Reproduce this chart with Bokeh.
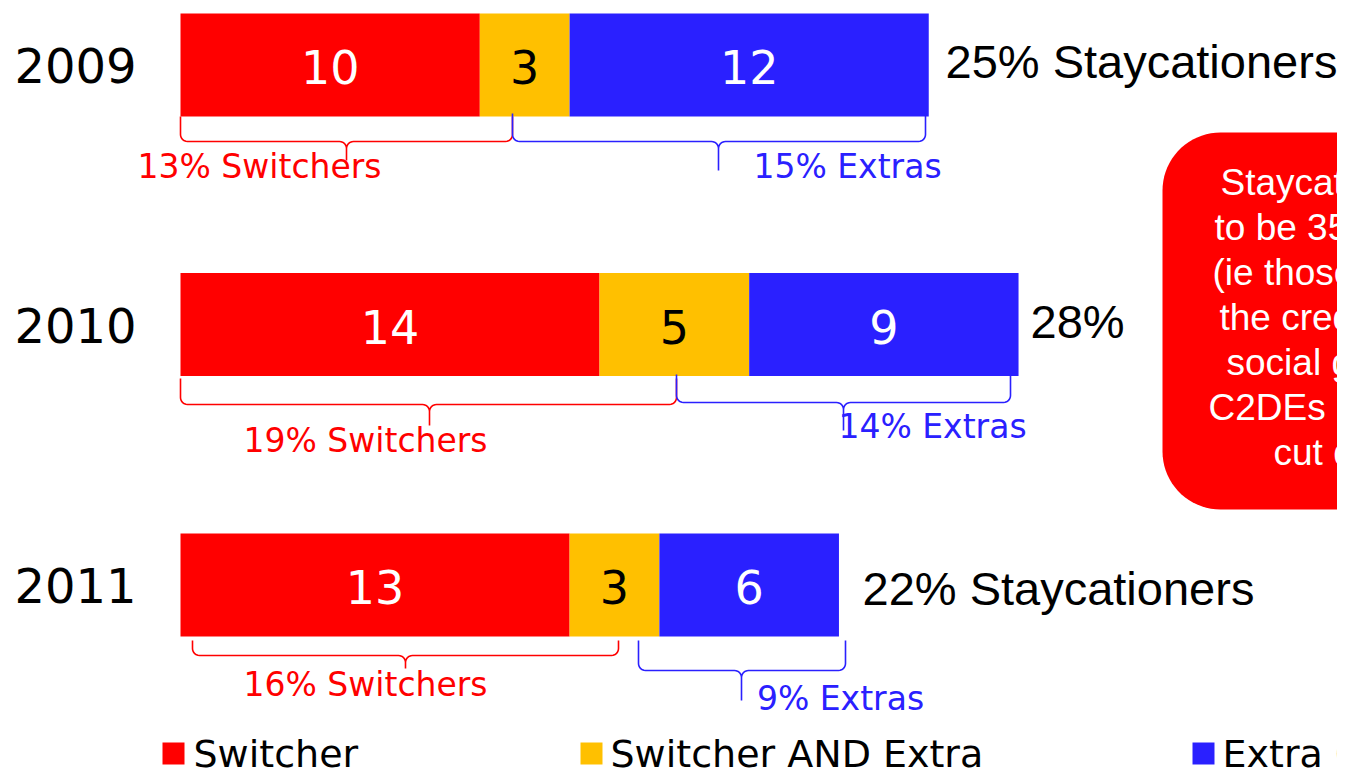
import numpy as np
from bokeh.plotting import figure
from bokeh.models import Range1d, ColumnDataSource
from bokeh.core.properties import value
from bokeh.embed import file_html
from bokeh.resources import INLINE

# ---------------- data ----------------
years = ["2009", "2010", "2011"]
switcher = [10, 14, 13]
switcher_and_extra = [3, 5, 3]
extra_only = [12, 9, 6]
total_labels = ["25% Staycationers", "28%", "22% Staycationers"]
switchers_pct = ["13% Switchers", "19% Switchers", "16% Switchers"]
extras_pct = ["15% Extras", "14% Extras", "9% Extras"]
legend_labels = ["Switcher", "Switcher AND Extra", "Extra Only"]
box_lines = ["Staycationers forecast", "to be 35% in 2012", "(ie those hardest hit by",
             "the credit crunch, esp.", "social grades", "C2DEs most likely to", "cut down)"]

# ---------------- layout / style ----------------
RED, YEL, BLU = "#FF0000", "#FFC000", "#2A20FF"
W, H = 1337, 771
X0, PXU = 180.0, 29.93          # screen px of value 0, px per unit
def px(x):                      # screen px -> data units
    return (x - X0) / PXU

def base(y, fs):                # visual baseline -> bokeh text y
    return y - 0.4 * fs

bar_y = [64.5, 324.0, 584.5]
bar_h = 103
year_base = [84, 344, 604]
val_base = [85, 345, 605]
total_x = [945, 1030, 862]
total_base = [80, 340, 607]
sw_lab = [(259, 179), (365, 453), (365, 697)]
ex_lab = [(847, 179), (932, 439), (840, 711)]
braces_red = [(180, 512, 346, 116, 141, 160), (180, 676, 429, 378, 404, 425), (192, 618, 405, 640, 655, 668)]
braces_blu = [(512, 925, 718, 113, 141, 170), (676, 1010, 843, 374, 402, 430), (638, 845, 741, 640, 670, 700)]

p = figure(width=W, height=H, output_backend="svg", toolbar_location=None,
           x_range=Range1d(px(0), px(W)), y_range=Range1d(H, 0),
           min_border=0, outline_line_color=None, background_fill_color="white")
p.axis.visible = False
p.grid.visible = False

# ---------------- bars ----------------
sw = np.array(switcher, float)
bo = np.array(switcher_and_extra, float)
ex = np.array(extra_only, float)
src = ColumnDataSource(dict(y=bar_y, s0=np.zeros(3), s1=sw, b1=sw + bo, e1=sw + bo + ex))
p.hbar(y="y", left="s0", right="s1", height=bar_h, source=src, fill_color=RED, line_color=None)
p.hbar(y="y", left="s1", right="b1", height=bar_h, source=src, fill_color=YEL, line_color=None)
p.hbar(y="y", left="b1", right="e1", height=bar_h, source=src, fill_color=BLU, line_color=None)

DV = value("DejaVu Sans")
LS = value("Liberation Sans")

VF = 46
vb = [base(v, VF) for v in val_base]
p.text(x=list(sw / 2), y=vb, text=[str(v) for v in switcher], text_color="white",
       text_font=DV, text_font_size=f"{VF}px", text_align="center", text_baseline="alphabetic")
p.text(x=list(sw + bo / 2), y=vb, text=[str(v) for v in switcher_and_extra], text_color="black",
       text_font=DV, text_font_size=f"{VF}px", text_align="center", text_baseline="alphabetic")
p.text(x=list(sw + bo + ex / 2), y=vb, text=[str(v) for v in extra_only], text_color="white",
       text_font=DV, text_font_size=f"{VF}px", text_align="center", text_baseline="alphabetic")

# year labels
YF = 48
p.text(x=[px(14)] * 3, y=[base(v, YF) for v in year_base], text=years, text_color="black", text_font=DV,
       text_font_size=f"{YF}px", text_align="left", text_baseline="alphabetic")

# totals on right
TF = 47
p.text(x=[px(v) for v in total_x], y=[base(v, TF) for v in total_base], text=total_labels, text_color="black",
       text_font=LS, text_font_size=f"{TF}px", text_align="left", text_baseline="alphabetic")

# ---------------- braces ----------------
def brace(xa, xb, xc, yt, yl, yb, r=7, n=8):
    t = np.linspace(0, np.pi / 2, n)
    xs, ys = [], []
    xs += [xa]; ys += [yt]
    xs += list(xa + r - r * np.cos(t)); ys += list(yl - r + r * np.sin(t))
    xs += list(xc - r + r * np.sin(t)); ys += list(yl + r - r * np.cos(t))
    xs += [xc]; ys += [yb]
    xs += [xc]; ys += [yl + r]
    xs += list(xc + r - r * np.cos(t)); ys += list(yl + r - r * np.sin(t))
    xs += list(xb - r + r * np.sin(t)); ys += list(yl - r + r * np.cos(t))
    xs += [xb]; ys += [yt]
    return [px(v) for v in xs], ys

for group, col in ((braces_red, RED), (braces_blu, BLU)):
    XS, YS = [], []
    for b in group:
        a, c = brace(*b)
        XS.append(a); YS.append(c)
    p.multi_line(xs=XS, ys=YS, line_color=col, line_width=1.6)

BF = 33
p.text(x=[px(a) for a, _ in sw_lab], y=[base(b, BF) for _, b in sw_lab], text=switchers_pct, text_color=RED,
       text_font=DV, text_font_size=f"{BF}px", text_align="center", text_baseline="alphabetic")
p.text(x=[px(a) for a, _ in ex_lab], y=[base(b, BF) for _, b in ex_lab], text=extras_pct, text_color=BLU,
       text_font=DV, text_font_size=f"{BF}px", text_align="center", text_baseline="alphabetic")

# ---------------- rounded red box ----------------
bl, br, bt, bb, rr = 1162, 1420, 132, 509, 58
t = np.linspace(0, np.pi / 2, 20)
bx = list(bl + rr - rr * np.cos(t)) + list(br - rr + rr * np.sin(t)) + \
     list(br - rr + rr * np.cos(t)) + list(bl + rr - rr * np.sin(t))
by = list(bt + rr - rr * np.sin(t)) + list(bt + rr - rr * np.cos(t)) + \
     list(bb - rr + rr * np.sin(t)) + list(bb - rr + rr * np.cos(t))
p.patch(x=[px(v) for v in bx], y=by, fill_color=RED, line_color=None)

XF = 37
box_x = [1220, 1214, 1212, 1219, 1226, 1208, 1273]
box_base = [197, 242, 287, 332, 377, 422, 467]
p.text(x=[px(v) for v in box_x], y=[base(v, XF) for v in box_base], text=box_lines, text_color="white",
       text_font=LS, text_font_size=f"{XF}px", text_align="left", text_baseline="alphabetic")

# ---------------- legend ----------------
LF = 38
leg_sq = [162, 580, 1192]
leg_tx = [193, 610, 1222]
p.rect(x=[px(v + 11) for v in leg_sq], y=[753] * 3, width=22 / PXU, height=22,
       fill_color=[RED, YEL, BLU], line_color=None)
p.text(x=[px(v) for v in leg_tx], y=[base(769, LF)] * 3, text=legend_labels, text_color="black",
       text_font=DV, text_font_size=f"{LF}px", text_align="left", text_baseline="alphabetic")

open("out.html", "w").write(file_html(p, INLINE))
